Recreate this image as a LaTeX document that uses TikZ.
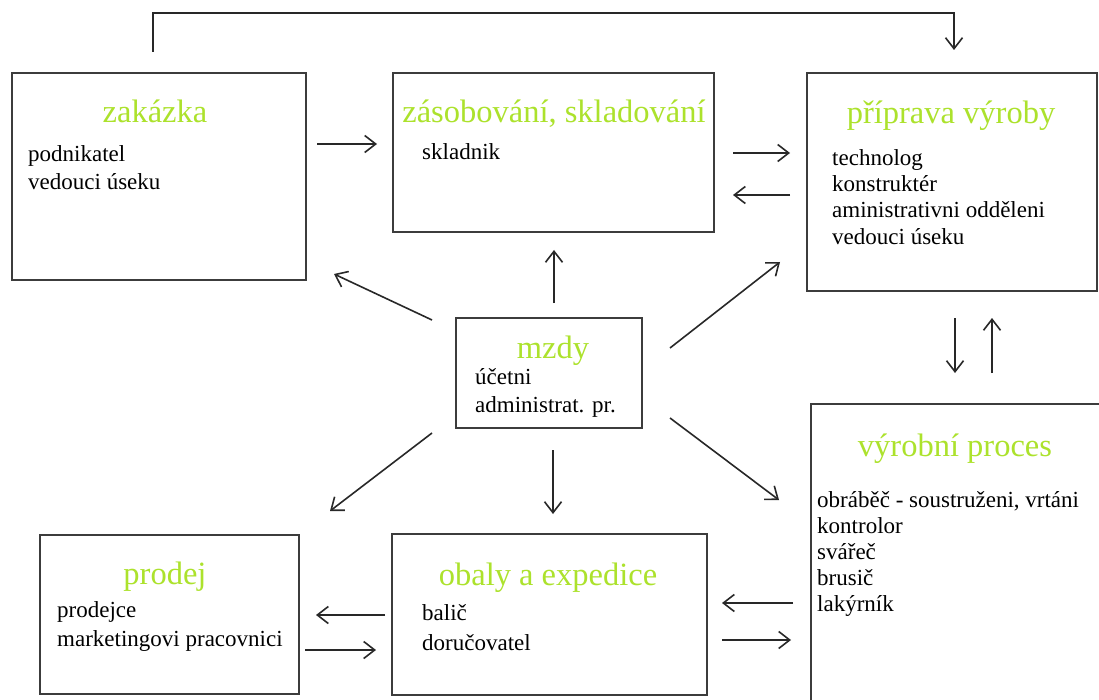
\documentclass[tikz,border=0pt]{standalone}
\usepackage{fontspec}
\setmainfont{Liberation Serif}
\usetikzlibrary{arrows.meta}
\definecolor{headgreen}{RGB}{172,226,44}
\definecolor{boxline}{RGB}{60,60,60}
\definecolor{arrowline}{RGB}{40,40,40}
\tikzset{
  box/.style={draw=boxline, line width=2pt, inner sep=0pt, fill=white},
  head/.style={anchor=base, inner sep=0pt, text=headgreen, font=\fontsize{32.5}{36}\selectfont},
  body/.style={anchor=base west, inner sep=0pt, text=black, font=\fontsize{23}{26}\selectfont},
  conn/.style={draw=arrowline, line width=1.6pt, -{Straight Barb[length=11pt,width=17pt,line width=1.6pt]}}
}
\begin{document}
\begin{tikzpicture}[x=1pt,y=-1pt]
\path[use as bounding box, fill=white] (0,0) rectangle (1099,700);
\clip (0,0) rectangle (1099,700);

% boxes
\node[box, minimum width=294pt, minimum height=207pt] (zak) at (159,176.5) {};
\node[box, minimum width=321pt, minimum height=159pt] (zas) at (553.5,152.5) {};
\node[box, minimum width=290pt, minimum height=218pt] (pri) at (952,182) {};
\node[box, minimum width=186pt, minimum height=110pt] (mzd) at (549,373) {};
\node[box, minimum width=300pt, minimum height=312pt] (vyr) at (961,560) {};
\node[box, minimum width=259pt, minimum height=159pt] (pro) at (169.5,614.5) {};
\node[box, minimum width=315pt, minimum height=161pt] (oba) at (549.5,614.5) {};

% texts
\node[head] (zakh) at (155,123) {zakázka};
\node[body] (zak1) at (28,162) {podnikatel};
\node[body] (zak2) at (28,190) {vedouci úseku};

\node[head] (zash) at (554,123) {zásobování, skladování};
\node[body] (zas1) at (422,160) {skladnik};

\node[head] (prih) at (951,124) {příprava výroby};
\node[body] (pri1) at (832,166) {technolog};
\node[body] (pri2) at (832,192) {konstruktér};
\node[body] (pri3) at (832,218) {aministrativni odděleni};
\node[body] (pri4) at (832,245) {vedouci úseku};

\node[head] (mzdh) at (553,358) {mzdy};
\node[body] (mzd1) at (475,384) {účetni};
\node[body] (mzd2) at (475,412) {administrat. pr.};

\node[head] (vyrh) at (955,456) {výrobní proces};
\node[body] (vyr1) at (817,507) {obráběč - soustruženi, vrtáni};
\node[body] (vyr2) at (817,533) {kontrolor};
\node[body] (vyr3) at (817,559) {svářeč};
\node[body] (vyr4) at (817,585) {brusič};
\node[body] (vyr5) at (817,611) {lakýrník};

\node[head] (proh) at (165,584) {prodej};
\node[body] (pro1) at (57,617) {prodejce};
\node[body] (pro2) at (57,646) {marketingovi pracovnici};

\node[head] (obah) at (548,585) {obaly a expedice};
\node[body] (oba1) at (422,620) {balič};
\node[body] (oba2) at (422,650) {doručovatel};

% connector end points
\coordinate (t0) at (153,52);
\coordinate (t1) at (153,13);
\coordinate (t2) at (954,13);
\coordinate (t3) at (954,50);

\coordinate (a1s) at (317,144);  \coordinate (a1e) at (377,144);
\coordinate (a2s) at (733,153);  \coordinate (a2e) at (790,153);
\coordinate (a3s) at (790,195);  \coordinate (a3e) at (733,195);
\coordinate (a4s) at (432,320);  \coordinate (a4e) at (334,274);
\coordinate (a5s) at (554,303);  \coordinate (a5e) at (554,250);
\coordinate (a6s) at (670,348);  \coordinate (a6e) at (780,262);
\coordinate (a7s) at (955,318);  \coordinate (a7e) at (955,373);
\coordinate (a8s) at (992,373);  \coordinate (a8e) at (992,318);
\coordinate (a9s) at (432,433);  \coordinate (a9e) at (330,511);
\coordinate (a10s) at (553,450); \coordinate (a10e) at (553,514);
\coordinate (a11s) at (670,418); \coordinate (a11e) at (779,500);
\coordinate (a12s) at (385,615); \coordinate (a12e) at (316,615);
\coordinate (a13s) at (305,650); \coordinate (a13e) at (376,650);
\coordinate (a14s) at (793,603); \coordinate (a14e) at (722,603);
\coordinate (a15s) at (722,640); \coordinate (a15e) at (791,640);

% connectors
\draw[conn] (t0) -- (t1) -- (t2) -- (t3);
\draw[conn] (a1s) -- (a1e);
\draw[conn] (a2s) -- (a2e);
\draw[conn] (a3s) -- (a3e);
\draw[conn] (a4s) -- (a4e);
\draw[conn] (a5s) -- (a5e);
\draw[conn] (a6s) -- (a6e);
\draw[conn] (a7s) -- (a7e);
\draw[conn] (a8s) -- (a8e);
\draw[conn] (a9s) -- (a9e);
\draw[conn] (a10s) -- (a10e);
\draw[conn] (a11s) -- (a11e);
\draw[conn] (a12s) -- (a12e);
\draw[conn] (a13s) -- (a13e);
\draw[conn] (a14s) -- (a14e);
\draw[conn] (a15s) -- (a15e);
\end{tikzpicture}
\end{document}
